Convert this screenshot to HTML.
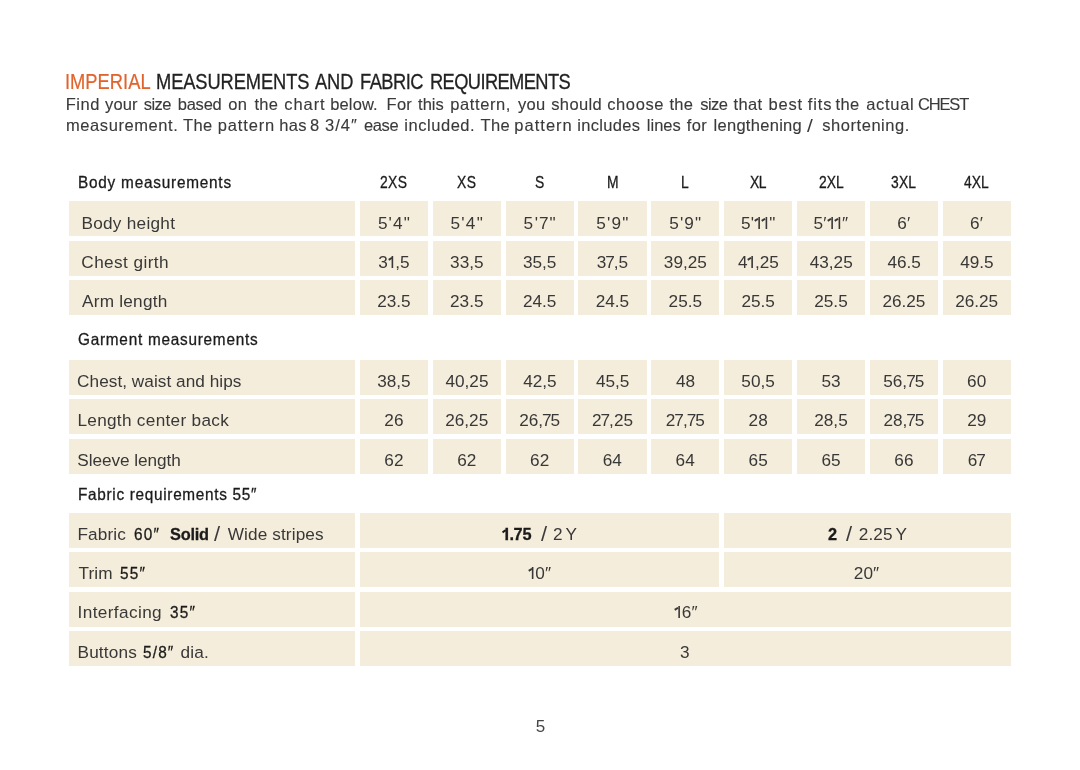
<!DOCTYPE html>
<html><head><meta charset="utf-8"><title>Imperial measurements and fabric requirements</title>
<style>
html,body{margin:0;padding:0;background:#fff;}
body{width:1080px;height:770px;position:relative;overflow:hidden;font-family:"Liberation Sans",sans-serif;}
.r{position:absolute;background:#f5eddb;}
#t{position:absolute;left:0;top:0;width:1080px;height:770px;will-change:transform;}
span{position:absolute;white-space:pre;line-height:24px;}
.t{font-size:21.8px;color:#222222;-webkit-text-stroke:0.28px #222222;transform:scaleX(0.84);transform-origin:0 0;}
.to{font-size:21.8px;color:#e0642d;-webkit-text-stroke:0.22px #e0642d;transform:scaleX(0.84);transform-origin:0 0;}
.h{font-size:16.5px;color:#1b1b1b;-webkit-text-stroke:0.3px #1b1b1b;transform:scaleX(0.93);transform-origin:0 0;}
.hs{font-size:16.5px;color:#1b1b1b;-webkit-text-stroke:0.3px #1b1b1b;transform:scaleX(0.84);transform-origin:0 0;}
.p{font-size:16.5px;color:#3a3a3a;-webkit-text-stroke:0.12px #3a3a3a;}
.c{font-size:17.2px;color:#383838;}
.cb{font-size:17.2px;color:#1b1b1b;font-weight:bold;-webkit-text-stroke:0.3px #1b1b1b;transform:scaleX(0.95);transform-origin:0 0;}
.sl{font-size:20px;color:#3a3a3a;transform:scaleX(1.1);transform-origin:0 0;}
.psl{font-size:19px;color:#3a3a3a;transform:scaleX(1.1);transform-origin:0 0;}
.n{font-size:17px;color:#444444;}
i{font-style:normal;font-size:0;letter-spacing:0;position:relative;margin:0 0.3px 0 2.2px;}
i::after{content:"I";font-size:17.2px;}
i::before{content:"";position:absolute;left:-2.6px;top:-10.9px;width:3.6px;height:1.5px;background:currentColor;transform:rotate(-33deg);transform-origin:100% 50%;}
.cb i{margin:0 0.4px 0 2.6px;}
.cb i::before{height:2.4px;width:4.2px;left:-2.9px;top:-10.6px;}
b{font-weight:normal;margin:0 -1px;}
em{font-style:normal;margin:0 0.9px 0 0.3px;}
</style></head><body>
<div class="r" style="left:69.20px;top:201.00px;width:285.80px;height:35.00px"></div>
<div class="r" style="left:359.80px;top:201.00px;width:68.30px;height:35.00px"></div>
<div class="r" style="left:432.65px;top:201.00px;width:68.30px;height:35.00px"></div>
<div class="r" style="left:505.50px;top:201.00px;width:68.30px;height:35.00px"></div>
<div class="r" style="left:578.35px;top:201.00px;width:68.30px;height:35.00px"></div>
<div class="r" style="left:651.20px;top:201.00px;width:68.30px;height:35.00px"></div>
<div class="r" style="left:724.05px;top:201.00px;width:68.30px;height:35.00px"></div>
<div class="r" style="left:796.90px;top:201.00px;width:68.30px;height:35.00px"></div>
<div class="r" style="left:869.75px;top:201.00px;width:68.30px;height:35.00px"></div>
<div class="r" style="left:942.60px;top:201.00px;width:68.30px;height:35.00px"></div>
<div class="r" style="left:69.20px;top:240.60px;width:285.80px;height:35.00px"></div>
<div class="r" style="left:359.80px;top:240.60px;width:68.30px;height:35.00px"></div>
<div class="r" style="left:432.65px;top:240.60px;width:68.30px;height:35.00px"></div>
<div class="r" style="left:505.50px;top:240.60px;width:68.30px;height:35.00px"></div>
<div class="r" style="left:578.35px;top:240.60px;width:68.30px;height:35.00px"></div>
<div class="r" style="left:651.20px;top:240.60px;width:68.30px;height:35.00px"></div>
<div class="r" style="left:724.05px;top:240.60px;width:68.30px;height:35.00px"></div>
<div class="r" style="left:796.90px;top:240.60px;width:68.30px;height:35.00px"></div>
<div class="r" style="left:869.75px;top:240.60px;width:68.30px;height:35.00px"></div>
<div class="r" style="left:942.60px;top:240.60px;width:68.30px;height:35.00px"></div>
<div class="r" style="left:69.20px;top:280.20px;width:285.80px;height:35.00px"></div>
<div class="r" style="left:359.80px;top:280.20px;width:68.30px;height:35.00px"></div>
<div class="r" style="left:432.65px;top:280.20px;width:68.30px;height:35.00px"></div>
<div class="r" style="left:505.50px;top:280.20px;width:68.30px;height:35.00px"></div>
<div class="r" style="left:578.35px;top:280.20px;width:68.30px;height:35.00px"></div>
<div class="r" style="left:651.20px;top:280.20px;width:68.30px;height:35.00px"></div>
<div class="r" style="left:724.05px;top:280.20px;width:68.30px;height:35.00px"></div>
<div class="r" style="left:796.90px;top:280.20px;width:68.30px;height:35.00px"></div>
<div class="r" style="left:869.75px;top:280.20px;width:68.30px;height:35.00px"></div>
<div class="r" style="left:942.60px;top:280.20px;width:68.30px;height:35.00px"></div>
<div class="r" style="left:69.20px;top:359.60px;width:285.80px;height:35.00px"></div>
<div class="r" style="left:359.80px;top:359.60px;width:68.30px;height:35.00px"></div>
<div class="r" style="left:432.65px;top:359.60px;width:68.30px;height:35.00px"></div>
<div class="r" style="left:505.50px;top:359.60px;width:68.30px;height:35.00px"></div>
<div class="r" style="left:578.35px;top:359.60px;width:68.30px;height:35.00px"></div>
<div class="r" style="left:651.20px;top:359.60px;width:68.30px;height:35.00px"></div>
<div class="r" style="left:724.05px;top:359.60px;width:68.30px;height:35.00px"></div>
<div class="r" style="left:796.90px;top:359.60px;width:68.30px;height:35.00px"></div>
<div class="r" style="left:869.75px;top:359.60px;width:68.30px;height:35.00px"></div>
<div class="r" style="left:942.60px;top:359.60px;width:68.30px;height:35.00px"></div>
<div class="r" style="left:69.20px;top:399.20px;width:285.80px;height:35.00px"></div>
<div class="r" style="left:359.80px;top:399.20px;width:68.30px;height:35.00px"></div>
<div class="r" style="left:432.65px;top:399.20px;width:68.30px;height:35.00px"></div>
<div class="r" style="left:505.50px;top:399.20px;width:68.30px;height:35.00px"></div>
<div class="r" style="left:578.35px;top:399.20px;width:68.30px;height:35.00px"></div>
<div class="r" style="left:651.20px;top:399.20px;width:68.30px;height:35.00px"></div>
<div class="r" style="left:724.05px;top:399.20px;width:68.30px;height:35.00px"></div>
<div class="r" style="left:796.90px;top:399.20px;width:68.30px;height:35.00px"></div>
<div class="r" style="left:869.75px;top:399.20px;width:68.30px;height:35.00px"></div>
<div class="r" style="left:942.60px;top:399.20px;width:68.30px;height:35.00px"></div>
<div class="r" style="left:69.20px;top:438.80px;width:285.80px;height:35.00px"></div>
<div class="r" style="left:359.80px;top:438.80px;width:68.30px;height:35.00px"></div>
<div class="r" style="left:432.65px;top:438.80px;width:68.30px;height:35.00px"></div>
<div class="r" style="left:505.50px;top:438.80px;width:68.30px;height:35.00px"></div>
<div class="r" style="left:578.35px;top:438.80px;width:68.30px;height:35.00px"></div>
<div class="r" style="left:651.20px;top:438.80px;width:68.30px;height:35.00px"></div>
<div class="r" style="left:724.05px;top:438.80px;width:68.30px;height:35.00px"></div>
<div class="r" style="left:796.90px;top:438.80px;width:68.30px;height:35.00px"></div>
<div class="r" style="left:869.75px;top:438.80px;width:68.30px;height:35.00px"></div>
<div class="r" style="left:942.60px;top:438.80px;width:68.30px;height:35.00px"></div>
<div class="r" style="left:69.20px;top:512.70px;width:285.80px;height:35.00px"></div>
<div class="r" style="left:359.80px;top:512.70px;width:359.70px;height:35.00px"></div>
<div class="r" style="left:724.05px;top:512.70px;width:286.85px;height:35.00px"></div>
<div class="r" style="left:69.20px;top:552.30px;width:285.80px;height:35.00px"></div>
<div class="r" style="left:359.80px;top:552.30px;width:359.70px;height:35.00px"></div>
<div class="r" style="left:724.05px;top:552.30px;width:286.85px;height:35.00px"></div>
<div class="r" style="left:69.20px;top:591.90px;width:285.80px;height:35.00px"></div>
<div class="r" style="left:359.80px;top:591.90px;width:651.10px;height:35.00px"></div>
<div class="r" style="left:69.20px;top:631.40px;width:285.80px;height:35.00px"></div>
<div class="r" style="left:359.80px;top:631.40px;width:651.10px;height:35.00px"></div>
<div id="t">
<span id="i0" class="to" style="left:64.59px;top:70.00px;letter-spacing:0.017px;">IMPERIAL</span>
<span id="i1" class="t" style="left:155.97px;top:70.00px;letter-spacing:-0.131px;">MEASUREMENTS</span>
<span id="i2" class="t" style="left:315.02px;top:70.00px;letter-spacing:-0.119px;">AND</span>
<span id="i3" class="t" style="left:360.22px;top:70.00px;letter-spacing:-0.648px;">FABRIC</span>
<span id="i4" class="t" style="left:430.47px;top:70.00px;letter-spacing:-0.731px;">REQUIREMENTS</span>
<span id="i5" class="p" style="left:65.67px;top:92.00px;letter-spacing:0.543px;">Find</span>
<span id="i6" class="p" style="left:105.04px;top:92.00px;letter-spacing:0.100px;">your</span>
<span id="i7" class="p" style="left:143.79px;top:92.00px;letter-spacing:-0.540px;">size</span>
<span id="i8" class="p" style="left:177.70px;top:92.00px;letter-spacing:-0.220px;">based</span>
<span id="i9" class="p" style="left:228.24px;top:92.00px;letter-spacing:0.315px;">on</span>
<span id="i10" class="p" style="left:254.44px;top:92.00px;letter-spacing:0.315px;">the</span>
<span id="i11" class="p" style="left:284.28px;top:92.00px;letter-spacing:0.937px;">chart</span>
<span id="i12" class="p" style="left:330.30px;top:92.00px;letter-spacing:0.104px;">below.</span>
<span id="i13" class="p" style="left:386.49px;top:92.00px;letter-spacing:0.315px;">For</span>
<span id="i14" class="p" style="left:418.00px;top:92.00px;letter-spacing:0.053px;">this</span>
<span id="i15" class="p" style="left:450.21px;top:92.00px;letter-spacing:0.601px;">pattern,</span>
<span id="i16" class="p" style="left:518.04px;top:92.00px;letter-spacing:0.315px;">you</span>
<span id="i17" class="p" style="left:551.28px;top:92.00px;letter-spacing:0.354px;">should</span>
<span id="i18" class="p" style="left:607.22px;top:92.00px;letter-spacing:0.608px;">choose</span>
<span id="i19" class="p" style="left:669.44px;top:92.00px;letter-spacing:0.315px;">the</span>
<span id="i20" class="p" style="left:700.18px;top:92.00px;letter-spacing:-0.513px;">size</span>
<span id="i21" class="p" style="left:733.58px;top:92.00px;letter-spacing:0.340px;">that</span>
<span id="i22" class="p" style="left:768.45px;top:92.00px;letter-spacing:0.810px;">best</span>
<span id="i23" class="p" style="left:807.66px;top:92.00px;letter-spacing:0.890px;">fits</span>
<span id="i24" class="p" style="left:835.58px;top:92.00px;letter-spacing:0.315px;">the</span>
<span id="i25" class="p" style="left:866.25px;top:92.00px;letter-spacing:0.678px;">actual</span>
<span id="i26" class="p" style="left:917.95px;top:92.00px;letter-spacing:-1.160px;">CHEST</span>
<span id="i27" class="p" style="left:66.00px;top:113.00px;letter-spacing:0.583px;">measurement.</span>
<span id="i28" class="p" style="left:183.00px;top:113.00px;letter-spacing:0.315px;">The</span>
<span id="i29" class="p" style="left:217.73px;top:113.00px;letter-spacing:0.855px;">pattern</span>
<span id="i30" class="p" style="left:279.18px;top:113.00px;letter-spacing:0.315px;">has</span>
<span id="i31" class="p" style="left:310.10px;top:113.00px;letter-spacing:0.315px;">8</span>
<span id="i32" class="p" style="left:324.98px;top:113.00px;letter-spacing:0.991px;">3/4&Prime;</span>
<span id="i33" class="p" style="left:363.90px;top:113.00px;letter-spacing:-0.333px;">ease</span>
<span id="i34" class="p" style="left:404.26px;top:113.00px;letter-spacing:0.545px;">included.</span>
<span id="i35" class="p" style="left:480.62px;top:113.00px;letter-spacing:0.315px;">The</span>
<span id="i36" class="p" style="left:514.30px;top:113.00px;letter-spacing:1.017px;">pattern</span>
<span id="i37" class="p" style="left:577.26px;top:113.00px;letter-spacing:0.319px;">includes</span>
<span id="i38" class="p" style="left:646.87px;top:113.00px;letter-spacing:-0.018px;">lines</span>
<span id="i39" class="p" style="left:686.75px;top:113.00px;letter-spacing:0.315px;">for</span>
<span id="i40" class="p" style="left:713.51px;top:113.00px;letter-spacing:0.294px;">lengthening</span>
<span id="i41" class="psl" style="left:807.40px;top:114.00px;">/</span>
<span id="i42" class="p" style="left:822.18px;top:113.00px;letter-spacing:0.558px;">shortening.</span>
<span id="i43" class="h" style="left:77.74px;top:170.00px;letter-spacing:0.829px;">Body measurements</span>
<span id="i44" class="hs" style="left:380.20px;top:170.00px;letter-spacing:0.488px;">2XS</span>
<span id="i45" class="hs" style="left:457.26px;top:170.00px;letter-spacing:0.595px;">XS</span>
<span id="i46" class="hs" style="left:534.71px;top:170.00px;">S</span>
<span id="i47" class="hs" style="left:607.14px;top:170.00px;">M</span>
<span id="i48" class="hs" style="left:680.67px;top:170.00px;">L</span>
<span id="i49" class="hs" style="left:750.15px;top:170.00px;letter-spacing:-0.595px;">XL</span>
<span id="i50" class="hs" style="left:818.71px;top:170.00px;letter-spacing:0.024px;">2XL</span>
<span id="i51" class="hs" style="left:891.26px;top:170.00px;letter-spacing:0.244px;">3XL</span>
<span id="i52" class="hs" style="left:964.37px;top:170.00px;letter-spacing:-0.024px;">4XL</span>
<span id="i53" class="h" style="left:78.17px;top:327.00px;letter-spacing:0.804px;">Garment measurements</span>
<span id="i54" class="h" style="left:77.74px;top:482.00px;letter-spacing:0.745px;">Fabric requirements 55&Prime;</span>
<span id="i55" class="c" style="left:81.41px;top:211.00px;letter-spacing:0.274px;">Body height</span>
<span id="i56" class="c" style="left:81.32px;top:250.00px;letter-spacing:0.409px;">Chest girth</span>
<span id="i57" class="c" style="left:82.03px;top:289.00px;letter-spacing:0.236px;">Arm length</span>
<span id="i58" class="c" style="left:77.10px;top:369.00px;letter-spacing:0.046px;">Chest, waist and hips</span>
<span id="i59" class="c" style="left:77.41px;top:408.00px;letter-spacing:0.303px;">Length center back</span>
<span id="i60" class="c" style="left:77.22px;top:448.00px;letter-spacing:-0.041px;">Sleeve length</span>
<span id="i61" class="c" style="left:77.41px;top:522.00px;letter-spacing:0.149px;">Fabric</span>
<span id="i62" class="h" style="left:134.33px;top:522.00px;letter-spacing:1.257px;">60&Prime;</span>
<span id="i63" class="cb" style="left:170.34px;top:522.00px;letter-spacing:-0.229px;">Solid</span>
<span id="i64" class="sl" style="left:213.86px;top:522.00px;">/</span>
<span id="i65" class="c" style="left:227.75px;top:522.00px;letter-spacing:0.116px;">Wide stripes</span>
<span id="i66" class="c" style="left:78.47px;top:561.00px;letter-spacing:0.149px;">Trim</span>
<span id="i67" class="h" style="left:120.12px;top:561.00px;letter-spacing:1.257px;">55&Prime;</span>
<span id="i68" class="c" style="left:77.57px;top:600.00px;letter-spacing:0.383px;">Interfacing</span>
<span id="i69" class="h" style="left:169.80px;top:600.00px;letter-spacing:1.257px;">35&Prime;</span>
<span id="i70" class="c" style="left:77.56px;top:640.00px;letter-spacing:0.149px;">Buttons</span>
<span id="i71" class="h" style="left:143.24px;top:640.00px;letter-spacing:1.257px;">5/8&Prime;</span>
<span id="i72" class="c" style="left:180.50px;top:640.00px;letter-spacing:0.149px;">dia.</span>
<span id="i73" class="c" style="left:377.98px;top:211.00px;letter-spacing:1.087px;">5'4"</span>
<span id="i74" class="c" style="left:450.56px;top:211.00px;letter-spacing:1.230px;">5'4"</span>
<span id="i75" class="c" style="left:523.44px;top:211.00px;letter-spacing:1.853px;">5'<b>7</b>"</span>
<span id="i76" class="c" style="left:596.27px;top:211.00px;letter-spacing:1.227px;">5'9"</span>
<span id="i77" class="c" style="left:669.23px;top:211.00px;letter-spacing:1.153px;">5'9"</span>
<span id="i78" class="c" style="left:741.08px;top:211.00px;letter-spacing:-0.258px;">5<em>'</em><i>1</i><i>1</i>"</span>
<span id="i79" class="c" style="left:813.44px;top:211.00px;letter-spacing:0.022px;">5<em>&prime;</em><i>1</i><i>1</i>&Prime;</span>
<span id="i80" class="c" style="left:897.33px;top:211.00px;">6&prime;</span>
<span id="i81" class="c" style="left:970.12px;top:211.00px;">6&prime;</span>
<span id="i82" class="c" style="left:378.35px;top:250.00px;">3<i>1</i>,5</span>
<span id="i83" class="c" style="left:450.08px;top:250.00px;">33,5</span>
<span id="i84" class="c" style="left:522.88px;top:250.00px;">35,5</span>
<span id="i85" class="c" style="left:596.72px;top:250.00px;">3<b>7</b>,5</span>
<span id="i86" class="c" style="left:663.85px;top:250.00px;">39,25</span>
<span id="i87" class="c" style="left:738.11px;top:250.00px;">4<i>1</i>,25</span>
<span id="i88" class="c" style="left:809.70px;top:250.00px;">43,25</span>
<span id="i89" class="c" style="left:887.40px;top:250.00px;">46.5</span>
<span id="i90" class="c" style="left:960.17px;top:250.00px;">49.5</span>
<span id="i91" class="c" style="left:377.21px;top:289.00px;">23.5</span>
<span id="i92" class="c" style="left:450.03px;top:289.00px;">23.5</span>
<span id="i93" class="c" style="left:522.89px;top:289.00px;">24.5</span>
<span id="i94" class="c" style="left:595.72px;top:289.00px;">24.5</span>
<span id="i95" class="c" style="left:668.61px;top:289.00px;">25.5</span>
<span id="i96" class="c" style="left:741.38px;top:289.00px;">25.5</span>
<span id="i97" class="c" style="left:814.26px;top:289.00px;">25.5</span>
<span id="i98" class="c" style="left:882.40px;top:289.00px;">26.25</span>
<span id="i99" class="c" style="left:955.18px;top:289.00px;">26.25</span>
<span id="i100" class="c" style="left:377.22px;top:369.00px;">38,5</span>
<span id="i101" class="c" style="left:445.48px;top:369.00px;">40,25</span>
<span id="i102" class="c" style="left:523.15px;top:369.00px;">42,5</span>
<span id="i103" class="c" style="left:595.91px;top:369.00px;">45,5</span>
<span id="i104" class="c" style="left:676.07px;top:369.00px;">48</span>
<span id="i105" class="c" style="left:741.34px;top:369.00px;">50,5</span>
<span id="i106" class="c" style="left:821.45px;top:369.00px;">53</span>
<span id="i107" class="c" style="left:883.26px;top:369.00px;">56,<b>7</b>5</span>
<span id="i108" class="c" style="left:967.12px;top:369.00px;">60</span>
<span id="i109" class="c" style="left:384.35px;top:408.00px;">26</span>
<span id="i110" class="c" style="left:445.22px;top:408.00px;">26,25</span>
<span id="i111" class="c" style="left:519.14px;top:408.00px;">26,<b>7</b>5</span>
<span id="i112" class="c" style="left:591.99px;top:408.00px;">2<b>7</b>,25</span>
<span id="i113" class="c" style="left:665.80px;top:408.00px;">2<b>7</b>,<b>7</b>5</span>
<span id="i114" class="c" style="left:748.62px;top:408.00px;">28</span>
<span id="i115" class="c" style="left:814.26px;top:408.00px;">28,5</span>
<span id="i116" class="c" style="left:883.40px;top:408.00px;">28,<b>7</b>5</span>
<span id="i117" class="c" style="left:967.15px;top:408.00px;">29</span>
<span id="i118" class="c" style="left:384.37px;top:448.00px;">62</span>
<span id="i119" class="c" style="left:457.29px;top:448.00px;">62</span>
<span id="i120" class="c" style="left:530.12px;top:448.00px;">62</span>
<span id="i121" class="c" style="left:602.72px;top:448.00px;">64</span>
<span id="i122" class="c" style="left:675.59px;top:448.00px;">64</span>
<span id="i123" class="c" style="left:748.62px;top:448.00px;">65</span>
<span id="i124" class="c" style="left:821.41px;top:448.00px;">65</span>
<span id="i125" class="c" style="left:894.33px;top:448.00px;">66</span>
<span id="i126" class="c" style="left:967.69px;top:448.00px;">6<b>7</b></span>
<span id="i127" class="cb" style="left:502.46px;top:522.00px;letter-spacing:-0.312px;"><i>1</i>.75</span>
<span id="i128" class="sl" style="left:540.61px;top:522.00px;">/</span>
<span id="i129" class="c" style="left:552.94px;top:522.00px;letter-spacing:0.130px;">2</span>
<span id="i130" class="c" style="left:565.53px;top:522.00px;letter-spacing:0.130px;">Y</span>
<span id="i131" class="cb" style="left:827.52px;top:522.00px;">2</span>
<span id="i132" class="sl" style="left:845.61px;top:522.00px;">/</span>
<span id="i133" class="c" style="left:858.69px;top:522.00px;letter-spacing:0.130px;">2.25</span>
<span id="i134" class="c" style="left:895.53px;top:522.00px;letter-spacing:0.130px;">Y</span>
<span id="i135" class="c" style="left:528.00px;top:561.00px;letter-spacing:0.130px;"><i>1</i>0&Prime;</span>
<span id="i136" class="c" style="left:853.69px;top:561.00px;letter-spacing:0.130px;">20&Prime;</span>
<span id="i137" class="c" style="left:674.50px;top:600.00px;letter-spacing:0.130px;"><i>1</i>6&Prime;</span>
<span id="i138" class="c" style="left:679.92px;top:640.00px;letter-spacing:0.130px;">3</span>
<span id="i139" class="n" style="left:535.84px;top:715.00px;">5</span>
</div>
</body></html>
